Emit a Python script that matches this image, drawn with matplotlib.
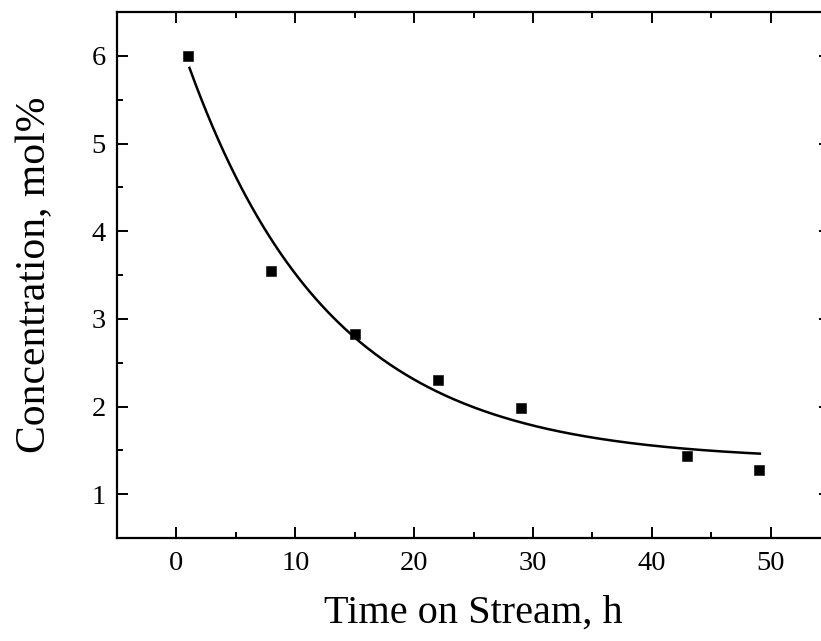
import numpy as np
import matplotlib
matplotlib.use("Agg")
import matplotlib.pyplot as plt
from matplotlib.ticker import MultipleLocator

# Measured concentration vs. time on stream
time_h = [1, 8, 15, 22, 29, 43, 49]
conc_mol = [6.00, 3.55, 2.83, 2.30, 1.98, 1.43, 1.27]

# First-order exponential decay fit: y = y0 + A * exp(-t / tau)
fit_y0 = 1.38
fit_A = 4.913
fit_tau = 12.0
fit_range = (1.1, 49.1)

plt.rcParams["font.family"] = ["Liberation Serif", "DejaVu Serif"]

fig = plt.figure(figsize=(8.21, 6.41), dpi=100)
ax = fig.add_axes([117 / 821, 1 - 538 / 641, (830 - 117) / 821, (538 - 12) / 641])

t_fit = np.linspace(fit_range[0], fit_range[1], 300)
y_fit = fit_y0 + fit_A * np.exp(-t_fit / fit_tau)
ax.plot(t_fit, y_fit, color="black", lw=1.8, zorder=2)
ax.plot(time_h, conc_mol, ls="none", marker="s", ms=7.6, mew=0.4,
        color="black", zorder=3)

ax.set_xlim(-5, 55)
ax.set_ylim(0.5, 6.5)
ax.xaxis.set_major_locator(MultipleLocator(10))
ax.xaxis.set_minor_locator(MultipleLocator(5))
ax.yaxis.set_major_locator(MultipleLocator(1))
ax.yaxis.set_minor_locator(MultipleLocator(0.5))

ax.tick_params(which="both", direction="in", top=True, right=True,
               width=1.4, labelsize=20.5)
ax.tick_params(which="major", length=8)
ax.tick_params(which="minor", length=4)
ax.tick_params(axis="x", which="major", pad=9)
ax.tick_params(axis="y", which="major", pad=8)
for sp in ax.spines.values():
    sp.set_linewidth(1.6)

ax.set_xlabel("Time on Stream, h", fontsize=29, labelpad=14)
ax.set_ylabel("Concentration, mol%", fontsize=30, labelpad=27)

fig.savefig("out.png", dpi=100)
